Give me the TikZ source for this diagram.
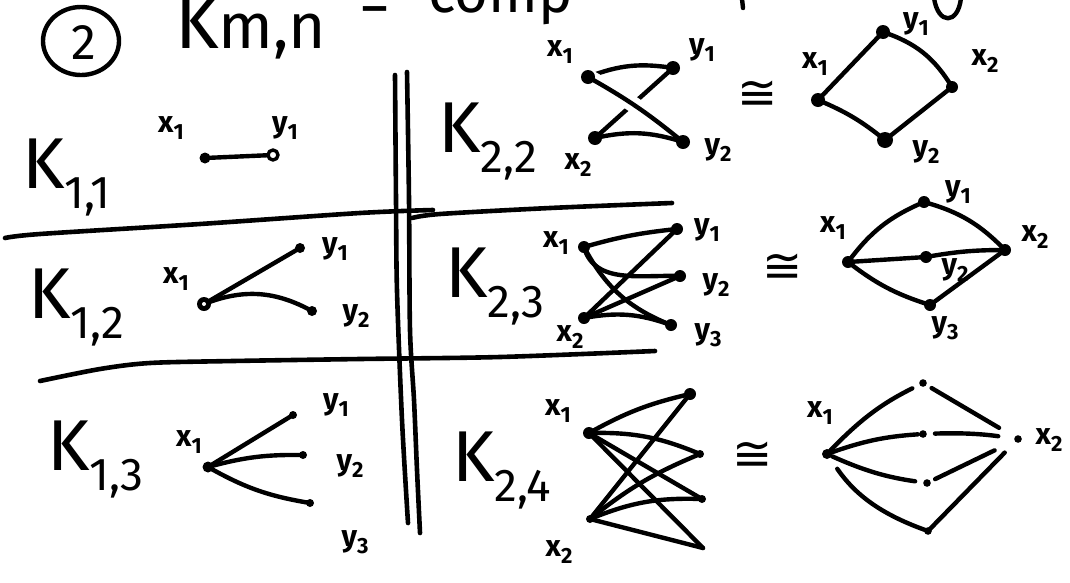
\documentclass[tikz,border=0pt]{standalone}
\usepackage{fontspec}
\setmainfont{Fira Sans}
\newfontfamily\symf{DejaVu Sans}
\newcommand\vl[2]{#1\raisebox{-0.22em}{\fontsize{22}{22}\selectfont #2}}
\newcommand\Kab[1]{{\fontsize{72}{72}\selectfont K}\raisebox{-20pt}{\fontsize{46}{46}\selectfont #1}}
\begin{document}
\begin{tikzpicture}[x=1pt,y=1pt,line cap=round,line join=round,
  ink/.style={line width=4.4pt},
  sep/.style={line width=4.6pt},
  lab/.style={inner sep=0pt,font=\bfseries\fontsize{30}{30}\selectfont},
  klab/.style={inner sep=0pt,anchor=base west},
  iso/.style={inner sep=0pt,font=\symf\fontsize{48}{48}\selectfont},
  gap/.style={preaction={draw,white,line width=16pt}}]
\useasboundingbox (0,-582) rectangle (1070,0);
\clip (0,-582) rectangle (1070,0);
\fill[white] (0,-582) rectangle (1070,0);

% ---------- title ----------
\draw[ink] (81,-41) ellipse [x radius=38, y radius=34];
\node[inner sep=0pt,font=\fontsize{50}{50}\selectfont] (two) at (84,-43) {2};
\node[klab] (kmn) at (175,-48) {{\fontsize{74}{74}\selectfont K}{\fontsize{64}{64}\selectfont m,n}};
\node[inner sep=0pt,font=\fontsize{62}{62}\selectfont] (eq) at (375,-9) {=};
\node[klab,font=\fontsize{58}{58}\selectfont] (comp) at (428,-12) {comp};
\draw[ink] (742,1) -- (743,-8);
\draw[ink] (934,2) .. controls (938,-25) and (958,-25) .. (961,2);

% ---------- separators ----------
\draw[sep] plot[smooth] coordinates {(395,-75) (396,-200) (397,-291) (402,-420) (408,-523)};
\draw[sep] plot[smooth] coordinates {(407,-72) (409,-200) (410,-330) (414,-400) (417,-470) (420,-533)};
\draw[sep] plot[smooth] coordinates {(5,-238) (40,-234) (200,-224) (360,-213) (433,-210)};
\draw[sep] plot[smooth] coordinates {(412,-218) (440,-214) (550,-208) (672,-203)};
\draw[sep] plot[smooth] coordinates {(40,-381) (100,-369) (150,-363) (233,-361) (360,-359) (500,-357) (655,-351)};

% ---------- K_{1,1} ----------
\node[klab] (k11) at (22,-188) {\Kab{1,1}};
\coordinate (a1) at (205,-158);
\coordinate (ay1) at (273,-155);
\draw[ink] (a1) -- (ay1);
\fill (a1) circle (5.5);
\draw[line width=3.4pt,fill=white] (ay1) circle (5);
\node[lab] (la1) at (171,-128) {\vl{x}{1}};
\node[lab] (lay1) at (285,-128) {\vl{y}{1}};

% ---------- K_{1,2} ----------
\node[klab] (k12) at (28,-318) {\Kab{1,2}};
\coordinate (b1) at (204,-304);
\coordinate (by1) at (300,-248);
\coordinate (by2) at (312,-311);
\draw[ink] (b1) -- (by1);
\draw[ink] (b1) to[bend left=25] (by2);
\fill (b1) circle (7); \fill[white] (b1) circle (2);
\fill (by1) circle (5); \fill (by2) circle (5);
\node[lab] (lb1) at (176,-279) {\vl{x}{1}};
\node[lab] (lby1) at (335,-249) {\vl{y}{1}};
\node[lab] (lby2) at (356,-316) {\vl{y}{2}};

% ---------- K_{1,3} ----------
\node[klab] (k13) at (47,-470) {\Kab{1,3}};
\coordinate (c1) at (208,-467);
\coordinate (cy1) at (293,-415);
\coordinate (cy2) at (303,-455);
\coordinate (cy3) at (310,-503);
\draw[ink] (c1) -- (cy1);
\draw[ink] (c1) to[bend left=8] (cy2);
\draw[ink] (c1) to[bend right=10] (cy3);
\fill (c1) circle (5.5);
\fill (cy1) circle (4); \fill (cy2) circle (4); \fill (cy3) circle (4);
\node[lab] (lc1) at (189,-442) {\vl{x}{1}};
\node[lab] (lcy1) at (336,-405) {\vl{y}{1}};
\node[lab] (lcy2) at (350,-466) {\vl{y}{2}};
\node[lab] (lcy3) at (355,-542) {\vl{y}{3}};

% ---------- K_{2,2} ----------
\node[klab] (k22) at (438,-152) {\Kab{2,2}};
\coordinate (d1) at (588,-77);
\coordinate (dy1) at (673,-68);
\coordinate (d2) at (595,-138);
\coordinate (dy2) at (683,-142);
\draw[ink] (d1) to[bend left=15] (dy1);
\draw[ink] (dy1) -- (d2);
\draw[ink,gap] (d1) to[bend left=5] (dy2);
\draw[ink] (d2) to[bend left=15] (dy2);
\foreach \p in {d1,dy1,d2,dy2} \fill (\p) circle (7);
\node[lab] (ld1) at (560,-52) {\vl{x}{1}};
\node[lab] (ldy1) at (702,-50) {\vl{y}{1}};
\node[lab] (ld2) at (578,-165) {\vl{x}{2}};
\node[lab] (ldy2) at (718,-150) {\vl{y}{2}};

\node[iso] (iso1) at (758,-95) {≅};

\coordinate (e1) at (818,-100);
\coordinate (ey1) at (883,-32);
\coordinate (e2) at (952,-87);
\coordinate (ey2) at (885,-140);
\draw[ink] (e1) -- (ey1);
\draw[ink] (ey1) to[bend left=20] (e2);
\draw[ink] (e1) to[bend left=8] (ey2);
\draw[ink] (ey2) -- (e2);
\fill (e1) circle (7); \fill (ey1) circle (7); \fill (e2) circle (6); \fill (ey2) circle (8);
\node[lab] (le1) at (815,-64) {\vl{x}{1}};
\node[lab] (ley1) at (916,-24) {\vl{y}{1}};
\node[lab] (le2) at (985,-61) {\vl{x}{2}};
\node[lab] (ley2) at (926,-152) {\vl{y}{2}};

% ---------- K_{2,3} ----------
\node[klab] (k23) at (445,-297) {\Kab{2,3}};
\coordinate (f1) at (584,-247);
\coordinate (fy1) at (677,-229);
\coordinate (fy2) at (680,-276);
\coordinate (f2) at (584,-318);
\coordinate (fy3) at (671,-325);
\draw[ink] (f1) to[bend left=5] (fy1);
\draw[ink] (f1) to[out=-75,in=178] (fy2);
\draw[ink] (f1) to[bend right=20] (fy3);
\draw[ink] (f2) -- (fy1);
\draw[ink] (f2) -- (fy2);
\draw[ink] (f2) to[bend left=15] (fy3);
\foreach \p in {f1,fy1,fy2,f2,fy3} \fill (\p) circle (6);
\node[lab] (lf1) at (556,-243) {\vl{x}{1}};
\node[lab] (lfy1) at (707,-230) {\vl{y}{1}};
\node[lab] (lfy2) at (716,-285) {\vl{y}{2}};
\node[lab] (lfy3) at (708,-335) {\vl{y}{3}};
\node[lab] (lf2) at (570,-337) {\vl{x}{2}};

\node[iso] (iso2) at (783,-268) {≅};

\coordinate (g1) at (848,-262);
\coordinate (gy1) at (924,-202);
\coordinate (gy2) at (926,-257);
\coordinate (g2) at (1005,-250);
\coordinate (gy3) at (930,-305);
\draw[ink] (g1) to[bend left=15] (gy1);
\draw[ink] (g1) -- (gy2);
\draw[ink] (g1) to[bend right=10] (gy3);
\draw[ink] (gy1) to[bend left=15] (g2);
\draw[ink] (gy2) to[bend left=5] (g2);
\draw[ink] (gy3) -- (g2);
\foreach \p in {g1,gy1,gy2,g2,gy3} \fill (\p) circle (6);
\node[lab] (lg1) at (833,-228) {\vl{x}{1}};
\node[lab] (lgy1) at (958,-192) {\vl{y}{1}};
\node[lab] (lg2) at (1035,-237) {\vl{x}{2}};
\node[lab] (lgy2) at (955,-270) {\vl{y}{2}};
\node[lab] (lgy3) at (945,-328) {\vl{y}{3}};

% ---------- K_{2,4} ----------
\node[klab] (k24) at (452,-481) {\Kab{2,4}};
\coordinate (h1) at (589,-433);
\coordinate (hy1) at (690,-394);
\coordinate (hy2) at (700,-454);
\coordinate (hy3) at (702,-499);
\coordinate (hy4) at (703,-548);
\coordinate (h2) at (590,-519);
\draw[ink] (h1) to[bend left=8] (hy1);
\draw[ink] (h1) to[bend left=12] (hy2);
\draw[ink] (h1) -- (hy3);
\draw[ink] (h1) -- (hy4);
\draw[ink] (h2) -- (hy1);
\draw[ink] (h2) to[bend left=8] (hy2);
\draw[ink] (h2) to[bend left=12] (hy3);
\draw[ink] (h2) -- (hy4);
\fill (h1) circle (6); \fill (hy1) circle (6);
\fill (hy2) circle (4); \fill (hy3) circle (4); \fill (h2) circle (4);
\node[lab] (lh1) at (558,-411) {\vl{x}{1}};
\node[lab] (lh2) at (559,-552) {\vl{x}{2}};

\node[iso] (iso3) at (753,-456) {≅};

\coordinate (i1) at (827,-454);
\coordinate (iy1) at (923,-383);
\coordinate (iy2) at (923,-434);
\coordinate (iy3) at (927,-483);
\coordinate (iy4) at (928,-531);
\coordinate (i2) at (1018,-439);
\draw[ink,shorten >=12pt] (i1) to[bend left=10] (iy1);
\draw[ink,shorten >=5pt] (i1) to[bend left=8] (iy2);
\draw[ink,shorten <=6pt,shorten >=12pt] (i1) to[bend right=8] (iy3);
\draw[ink,shorten <=18pt] (i1) to[bend right=18] (iy4);
\draw[ink,shorten <=10pt,shorten >=22pt] (iy1) -- (i2);
\draw[ink,shorten <=12pt,shorten >=20pt] (iy2) to[bend left=5] (i2);
\draw[ink,shorten <=9pt,shorten >=26pt] (iy3) -- (i2);
\draw[ink,shorten >=19pt] (iy4) -- (i2);
\fill (i1) circle (5);
\foreach \p in {iy1,iy2,iy3,iy4,i2} \fill (\p) circle (3.8);
\node[lab] (li1) at (820,-413) {\vl{x}{1}};
\node[lab] (li2) at (1049,-440) {\vl{x}{2}};
\end{tikzpicture}
\end{document}
